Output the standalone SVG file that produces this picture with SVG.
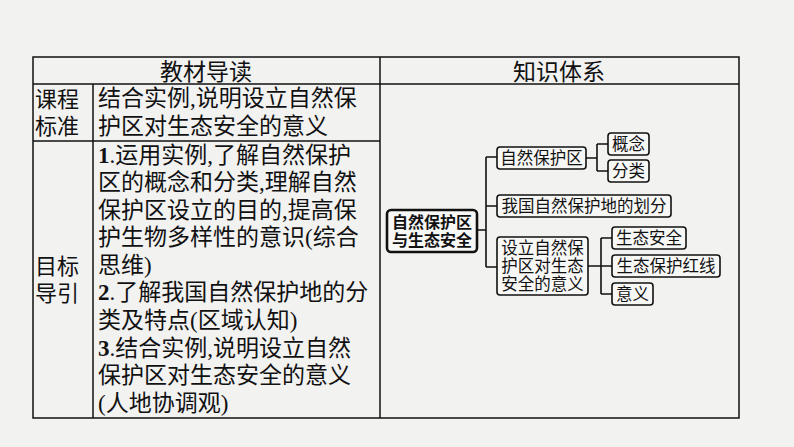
<svg xmlns="http://www.w3.org/2000/svg" width="794" height="447" viewBox="0 0 794 447">
<style>
.bg{fill:#f2f2f1}
.tbl{fill:none;stroke:#111;stroke-width:1.5}
.t{font-family:"Liberation Serif","Noto Sans CJK SC",sans-serif;font-size:23px;fill:#111}
.h{font-family:"Noto Sans CJK SC",sans-serif;font-size:23px;fill:#111;text-anchor:middle}
.lb{font-family:"Noto Sans CJK SC",sans-serif;font-size:22px;fill:#111}
.b{font-weight:bold}
.box{fill:#f7f7f6;stroke:#111;stroke-width:1.6}
.root{fill:#f7f7f6;stroke:#111;stroke-width:2.6}
.m{font-family:"Noto Sans CJK SC",sans-serif;font-size:16.5px;fill:#111}
.mc{text-anchor:middle}
.mb{font-weight:bold;font-size:16px}
.ln{fill:none;stroke:#111;stroke-width:1.6}
</style>
<rect class="bg" x="0" y="0" width="794" height="447"/>
<g id="table">
<rect class="tbl" x="33" y="57" width="706" height="361"/>
<line class="tbl" x1="33" y1="84" x2="739" y2="84"/>
<line class="tbl" x1="380" y1="57" x2="380" y2="418"/>
<line class="tbl" x1="93" y1="84" x2="93" y2="418"/>
<line class="tbl" x1="33" y1="141" x2="380" y2="141"/>
<text class="h" x="206" y="80">教材导读</text>
<text class="h" x="559" y="80">知识体系</text>
<text class="lb" x="35" y="107">课程</text>
<text class="lb" x="35" y="134">标准</text>
<text class="lb" x="35" y="274">目标</text>
<text class="lb" x="35" y="301">导引</text>
<text class="t" x="98" y="105.5">结合实例,说明设立自然保</text>
<text class="t" x="98" y="134">护区对生态安全的意义</text>
<text class="t" x="98" y="162.5"><tspan class="b">1</tspan>.运用实例,了解自然保护</text>
<text class="t" x="98" y="190">区的概念和分类,理解自然</text>
<text class="t" x="98" y="217.5">保护区设立的目的,提高保</text>
<text class="t" x="98" y="245">护生物多样性的意识(综合</text>
<text class="t" x="98" y="272.5">思维)</text>
<text class="t" x="98" y="300"><tspan class="b">2</tspan>.了解我国自然保护地的分</text>
<text class="t" x="98" y="328">类及特点(区域认知)</text>
<text class="t" x="98" y="355.5"><tspan class="b">3</tspan>.结合实例,说明设立自然</text>
<text class="t" x="98" y="383">保护区对生态安全的意义</text>
<text class="t" x="98" y="410.5">(人地协调观)</text>
</g>
<g id="connectors">
<path class="ln" d="M477 230H486M486 157V267M486 157H497M486 206H497M486 267H497"/>
<path class="ln" d="M586 158H597M597 144V171M597 144H608M597 171H608"/>
<path class="ln" d="M588 266H601M601 238V294M601 238H612M601 266H612M601 294H612"/>
</g>
<g id="root">
<rect class="root" x="387" y="210" width="90" height="42" rx="4"/>
<text class="m mb mc" x="432" y="228">自然保护区<tspan x="432" dy="18">与生态安全</tspan></text>
</g>
<g id="n1">
<rect class="box" x="497" y="147" width="89" height="22" rx="3"/>
<text class="m mc" x="541.5" y="164">自然保护区</text>
</g>
<g id="n2">
<rect class="box" x="497" y="195" width="174" height="22" rx="3"/>
<text class="m mc" x="584" y="212">我国自然保护地的划分</text>
</g>
<g id="n3">
<rect class="box" x="497" y="237" width="91" height="58" rx="3"/>
<text class="m mc" x="542.5" y="254">设立自然保<tspan x="542.5" dy="18">护区对生态</tspan><tspan x="542.5" dy="18">安全的意义</tspan></text>
</g>
<g id="n4">
<rect class="box" x="608" y="133" width="41" height="22" rx="3"/>
<text class="m mc" x="628.5" y="150">概念</text>
</g>
<g id="n5">
<rect class="box" x="608" y="160" width="41" height="22" rx="3"/>
<text class="m mc" x="628.5" y="177">分类</text>
</g>
<g id="n6">
<rect class="box" x="612" y="227" width="74" height="22" rx="3"/>
<text class="m mc" x="649" y="244">生态安全</text>
</g>
<g id="n7">
<rect class="box" x="612" y="255" width="108" height="22" rx="3"/>
<text class="m mc" x="666" y="272">生态保护红线</text>
</g>
<g id="n8">
<rect class="box" x="612" y="283" width="41" height="22" rx="3"/>
<text class="m mc" x="632.5" y="300">意义</text>
</g>
</svg>
